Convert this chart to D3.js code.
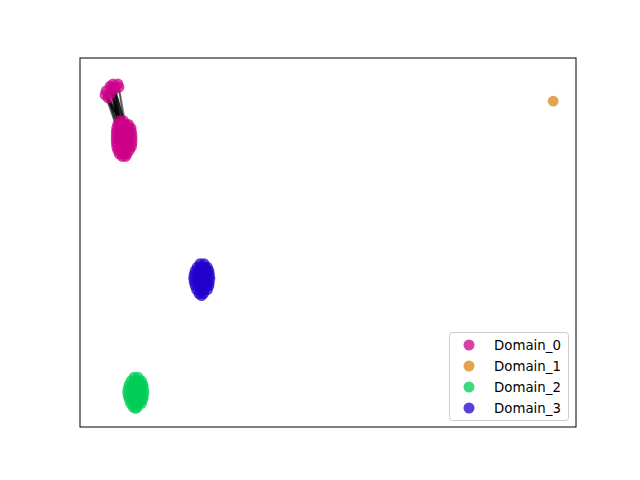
<!DOCTYPE html>
<html><head><meta charset="utf-8">
<script src="https://cdn.jsdelivr.net/npm/d3@7"></script>
<style>body{margin:0;background:#fff}svg{display:block}</style>
</head><body>
<script>
const domains = ["Domain_0","Domain_1","Domain_2","Domain_3"];
const colors = ["#cc0088","#d6861a","#00cc55","#2200cc"];

const domain0Small = [[6.65,92.95],[7.66,92.95],[6.05,92.4],[5.24,91.06],[5.04,89.97],[5.65,89.16],[6.25,90.5],[7.06,91.6],[7.86,92.1],[6.45,91.87]];
const domain0Big = [
  [8.0,83.0],[8.8,83.0],
  [7.6,82.0],[8.4,82.0],[9.2,82.0],[9.8,82.0],
  [7.4,81.0],[8.2,81.0],[9.0,81.0],[9.8,81.0],[10.3,81.0],
  [7.3,80.0],[8.1,80.0],[8.9,80.0],[9.7,80.0],[10.4,80.0],
  [7.3,79.0],[8.1,79.0],[8.9,79.0],[9.7,79.0],[10.5,79.0],
  [7.3,78.0],[8.1,78.0],[8.9,78.0],[9.7,78.0],[10.5,78.0],
  [7.3,77.0],[8.1,77.0],[8.9,77.0],[9.7,77.0],[10.5,77.0],
  [7.4,76.0],[8.2,76.0],[9.0,76.0],[9.8,76.0],[10.4,76.0],
  [7.6,75.0],[8.4,75.0],[9.2,75.0],[10.0,75.0],
  [7.9,74.0],[8.7,74.0],[9.5,74.0],
  [8.5,73.3],[9.2,73.3]];
const domain1 = [[95.4,88.3]];
const domain2 = [
  [10.9,13.5],[11.7,13.5],
  [10.3,12.5],[11.1,12.5],[11.9,12.5],[12.4,12.5],
  [9.9,11.5],[10.7,11.5],[11.5,11.5],[12.3,11.5],[12.7,11.5],
  [9.7,10.5],[10.5,10.5],[11.3,10.5],[12.1,10.5],[12.8,10.5],
  [9.6,9.5],[10.4,9.5],[11.2,9.5],[12.0,9.5],[12.9,9.5],
  [9.7,8.5],[10.5,8.5],[11.3,8.5],[12.1,8.5],[12.8,8.5],
  [9.9,7.5],[10.7,7.5],[11.5,7.5],[12.3,7.5],[12.7,7.5],
  [10.2,6.4],[11.0,6.4],[11.8,6.4],[12.4,6.4],
  [10.7,5.4],[11.6,5.4],[11.2,5.0]];
const domain3 = [
  [24.2,44.3],[25.0,44.3],
  [23.6,43.3],[24.4,43.3],[25.2,43.3],[25.7,43.3],
  [23.2,42.3],[24.0,42.3],[24.8,42.3],[25.6,42.3],[26.0,42.3],
  [23.0,41.3],[23.8,41.3],[24.6,41.3],[25.4,41.3],[26.1,41.3],
  [22.9,40.3],[23.7,40.3],[24.5,40.3],[25.3,40.3],[26.2,40.3],
  [23.0,39.3],[23.8,39.3],[24.6,39.3],[25.4,39.3],[26.1,39.3],
  [23.2,38.3],[24.0,38.3],[24.8,38.3],[25.6,38.3],[26.0,38.3],
  [23.5,37.2],[24.3,37.2],[25.1,37.2],[25.7,37.2],
  [24.0,36.1],[24.9,36.1],[24.5,35.6]];
// edges: [index in domain0Small, index in domain0Big]
const edges = [[4,0],[4,2],[4,3],[5,0],[5,1],[5,2],[5,3],[6,0],[6,1],[6,2],[6,3],[7,0],[7,1],[7,3],[7,4],[3,2],[3,0],[9,0],[9,3],[9,2],[2,0],[0,1],[0,3],[5,6],[6,7],[4,6],[7,2],[9,1],[1,1],[8,4]];

const W = 640, H = 480;
const L = 80, R = 576, T = 58, B = 427;
const svg = d3.select("body").append("svg").attr("width", W).attr("height", H);
const x = d3.scaleLinear().domain([0,100]).range([L,R]);
const y = d3.scaleLinear().domain([0,100]).range([B,T]);

const series = [domain0Small.concat(domain0Big), domain1, domain2, domain3];

// edges
svg.append("g").selectAll("line").data(edges).join("line")
  .attr("x1", d => x(domain0Small[d[0]][0])).attr("y1", d => y(domain0Small[d[0]][1]))
  .attr("x2", d => x(domain0Big[d[1]][0])).attr("y2", d => y(domain0Big[d[1]][1]))
  .attr("stroke", "#000").attr("stroke-opacity", 0.5).attr("stroke-width", 1.5);

series.forEach((pts, i) => {
  svg.append("g").selectAll("circle").data(pts).join("circle")
    .attr("cx", d => x(d[0])).attr("cy", d => y(d[1])).attr("r", 5.4)
    .attr("fill", colors[i]).attr("fill-opacity", 0.75);
});

svg.append("rect").attr("x", L).attr("y", T).attr("width", R-L).attr("height", B-T)
  .attr("fill", "none").attr("stroke", "#000").attr("stroke-width", 1);

// legend
const lg = svg.append("g");
lg.append("rect").attr("x", 449.5).attr("y", 332.5).attr("width", 119).attr("height", 88)
  .attr("rx", 3).attr("fill", "#fff").attr("fill-opacity", 0.8).attr("stroke", "#cccccc");
domains.forEach((name, i) => {
  const cy = 345 + i*21;
  lg.append("circle").attr("cx", 469).attr("cy", cy).attr("r", 5.5)
    .attr("fill", colors[i]).attr("fill-opacity", 0.75);
  lg.append("text").attr("x", 494).attr("y", cy + 4.8).text(name)
    .attr("font-family", "DejaVu Sans").attr("font-size", "13.33px").attr("fill", "#000");
});
</script>
</body></html>
